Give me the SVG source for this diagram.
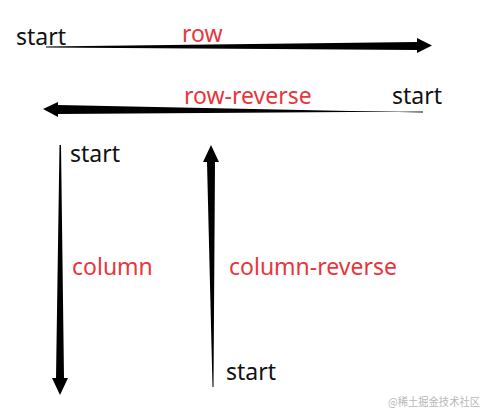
<svg xmlns="http://www.w3.org/2000/svg" width="493" height="420" viewBox="0 0 493 420">
<style>
.k{font-family:"Noto Sans","Noto Sans CJK SC",sans-serif;font-size:23px;fill:#111}
.r{font-family:"Noto Sans","Noto Sans CJK SC",sans-serif;font-size:23px;fill:#e8363b}
.w{font-family:"Noto Sans CJK SC","Noto Sans",sans-serif;font-size:11px;fill:#b8b8b8}
.a{fill:#000}
</style>
<rect width="493" height="420" fill="#fff"/>
<g id="connectors">
<polygon class="a" points="46,46.5 417,42 417,38 432,45.5 417,53 417,50 46,47.5"/>
<polygon class="a" points="423,111.5 58,114 58,117 43,109 58,102 58,105 423,112.5"/>
<polygon class="a" points="59.5,145 61,145 64,378 68,378 60,395 52,378 56,378"/>
<polygon class="a" points="212.5,387 213.5,387 215,162 219,162 211,145 203,162 207,162"/>
</g>
<g id="row"><text class="k" x="16" y="45">start</text><text class="r" x="182" y="42">row</text></g>
<g id="row-reverse"><text class="r" x="184" y="104">row-reverse</text><text class="k" x="392" y="104">start</text></g>
<g id="column"><text class="k" x="70" y="162">start</text><text class="r" x="72" y="275">column</text></g>
<g id="column-reverse"><text class="r" x="229" y="275">column-reverse</text><text class="k" x="226" y="380">start</text></g>
<text class="w" x="388" y="406" textLength="92" lengthAdjust="spacingAndGlyphs">@稀土掘金技术社区</text>
</svg>
